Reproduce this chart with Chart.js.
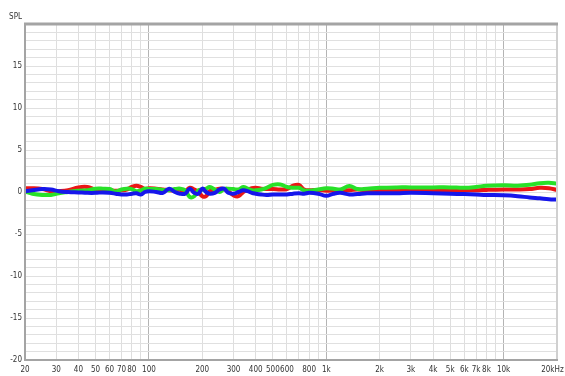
<!DOCTYPE html>
<html>
<head>
<meta charset="utf-8">
<script src="https://cdn.jsdelivr.net/npm/chart.js@4/dist/chart.umd.min.js"></script>
<style>
  html, body { margin: 0; padding: 0; background: #ffffff; }
  #wrap { width: 565px; height: 376px; }
</style>
</head>
<body>
<div id="wrap"><canvas id="spl" width="565" height="376"></canvas></div>
<script>
// Frequency points (Hz) shared by all three responses
const freqs = [20, 22, 25, 28, 31, 35, 40, 45, 50, 55, 60, 65, 70, 75, 80, 85, 90, 95, 100,
  110, 120, 130, 140, 150, 160, 170, 180, 190, 200, 210, 220, 235, 250, 265, 280, 300,
  320, 340, 360, 380, 400, 430, 460, 500, 550, 600, 650, 700, 750, 800, 900, 1000,
  1100, 1200, 1350, 1500, 1700, 2000, 2500, 3000, 4000, 5000, 6000, 7000, 8000,
  10000, 12000, 14000, 16000, 18000, 20000];

// Level (dB) per measurement
const redSPL = [0.45, 0.45, 0.35, 0.1, 0.1, 0.2, 0.55, 0.6, 0.3, 0.2, 0.2, 0.15, 0.2, 0.3, 0.6, 0.75, 0.6, 0.35, 0.45,
  0.4, 0.3, 0.2, 0.2, 0.25, 0.1, 0.5, 0.3, 0.0, -0.5, -0.5, 0.1, 0.25, 0.4, 0.35, 0.1, -0.4,
  -0.5, 0.0, 0.25, 0.45, 0.5, 0.4, 0.35, 0.35, 0.3, 0.35, 0.75, 0.85, 0.3, 0.2, 0.25, 0.15,
  0.2, 0.25, 0.2, 0.3, 0.2, 0.2, 0.2, 0.15, 0.15, 0.15, 0.2, 0.2, 0.25,
  0.3, 0.3, 0.35, 0.5, 0.45, 0.25];

const greenSPL = [0.05, -0.2, -0.35, -0.35, -0.15, 0.0, 0.15, 0.2, 0.4, 0.4, 0.35, 0.05, 0.3, 0.4, 0.35, 0.1, 0.2, 0.4, 0.35,
  0.35, 0.25, 0.2, 0.35, 0.4, 0.2, -0.6, -0.5, 0.2, 0.3, 0.4, 0.6, 0.3, 0.0, 0.35, 0.4, 0.35,
  0.3, 0.6, 0.4, 0.2, 0.2, 0.3, 0.5, 0.85, 0.9, 0.6, 0.5, 0.5, 0.2, 0.15, 0.3, 0.45,
  0.4, 0.3, 0.7, 0.35, 0.4, 0.5, 0.55, 0.55, 0.55, 0.55, 0.5, 0.6, 0.75,
  0.8, 0.75, 0.85, 1.05, 1.1, 1.0];

const blueSPL = [0.1, 0.2, 0.35, 0.3, 0.1, 0.0, -0.05, -0.1, -0.1, -0.05, -0.1, -0.2, -0.3, -0.3, -0.2, -0.15, -0.3, 0.0, 0.1,
  0.0, -0.1, 0.4, 0.0, -0.2, -0.2, 0.4, -0.1, -0.2, 0.4, 0.0, -0.2, -0.1, 0.3, 0.4, -0.1, -0.2,
  0.0, 0.2, 0.1, -0.1, -0.2, -0.3, -0.35, -0.3, -0.3, -0.3, -0.2, -0.15, -0.2, -0.1, -0.2, -0.45,
  -0.2, -0.1, -0.3, -0.25, -0.15, -0.15, -0.15, -0.1, -0.15, -0.2, -0.25, -0.3, -0.35,
  -0.4, -0.5, -0.65, -0.75, -0.85, -0.9];

// Vertical grid positions and their captions
const gridFreqs = [20, 30, 40, 50, 60, 70, 80, 90, 100, 200, 300, 400, 500, 600, 700, 800, 900,
  1000, 2000, 3000, 4000, 5000, 6000, 7000, 8000, 9000, 10000, 20000];
const freqLabels = {20: '20', 30: '30', 40: '40', 50: '50', 60: '60', 70: '70', 80: '80', 100: '100',
  200: '200', 300: '300', 400: '400', 500: '500', 600: '600', 800: '800', 1000: '1k',
  2000: '2k', 3000: '3k', 4000: '4k', 5000: '5k', 6000: '6k', 7000: '7k', 8000: '8k',
  10000: '10k', 20000: '20kHz\u00a0\u00a0\u00a0\u00a0'};
const decadeFreqs = [100, 1000, 10000];

const yMin = -20, yMax = 20;
const yLabelStep = 5;
const yAxisTitle = 'SPL';

const toPoints = (vals) => freqs.map((f, i) => ({ x: f, y: vals[i] }));

const tickFont = { family: "'DejaVu Sans Condensed', 'Liberation Sans Narrow', 'Liberation Sans', sans-serif", size: 8 };
const tickColor = '#333333';

// Gray frame around the plot and the SPL caption above the level axis
const framePlugin = {
  id: 'frame',
  afterDraw(chart) {
    const { ctx, chartArea: a } = chart;
    ctx.save();
    ctx.strokeStyle = '#d0d0d0';
    ctx.lineWidth = 2;
    ctx.beginPath();
    ctx.moveTo(a.right, a.top);
    ctx.lineTo(a.right, a.bottom);
    ctx.stroke();
    ctx.strokeStyle = '#a4a4a4';
    ctx.lineWidth = 3;
    ctx.beginPath();
    ctx.moveTo(a.left - 1, a.top);
    ctx.lineTo(a.right + 1, a.top);
    ctx.stroke();
    ctx.lineWidth = 2;
    ctx.beginPath();
    ctx.moveTo(a.left, a.top);
    ctx.lineTo(a.left, a.bottom);
    ctx.moveTo(a.left - 1, a.bottom);
    ctx.lineTo(a.right + 1, a.bottom);
    ctx.stroke();
    ctx.fillStyle = tickColor;
    ctx.font = `${tickFont.size}px ${tickFont.family}`;
    ctx.textAlign = 'right';
    ctx.textBaseline = 'middle';
    ctx.fillText(yAxisTitle, a.left - 3, a.top - 7);
    ctx.restore();
  }
};

new Chart(document.getElementById('spl'), {
  type: 'line',
  data: {
    datasets: [
      { label: 'blue', data: toPoints(blueSPL), borderColor: 'rgb(22,22,235)' },
      { label: 'green', data: toPoints(greenSPL), borderColor: 'rgb(40,225,40)' },
      { label: 'red', data: toPoints(redSPL), borderColor: 'rgb(235,22,22)' }
    ]
  },
  options: {
    responsive: false,
    animation: false,
    devicePixelRatio: 1,
    layout: { padding: { left: 0, top: 24, right: 8, bottom: 0 } },
    elements: {
      line: { borderWidth: 4, tension: 0.4, fill: false },
      point: { radius: 0 }
    },
    plugins: { legend: { display: false }, tooltip: { enabled: false } },
    scales: {
      x: {
        type: 'logarithmic',
        min: 20,
        max: 20000,
        afterBuildTicks(scale) {
          scale.ticks = gridFreqs.map(v => ({ value: v }));
        },
        afterFit(scale) {
          scale.height = 16;
          scale.paddingLeft = 0;
          scale.paddingRight = 0;
        },
        border: { display: false },
        grid: {
          drawTicks: false,
          lineWidth: 1,
          color: (ctx) => (ctx.tick && decadeFreqs.includes(ctx.tick.value)) ? '#b4b4b4' : '#dedede'
        },
        ticks: {
          autoSkip: false,
          maxRotation: 0,
          padding: 5,
          font: tickFont,
          color: tickColor,
          callback: (v) => freqLabels[v] || ''
        }
      },
      y: {
        min: yMin,
        max: yMax,
        afterFit(scale) { scale.width = 25; },
        border: { display: false },
        grid: { drawTicks: false, color: '#e0e0e0', lineWidth: 1 },
        ticks: {
          stepSize: 1,
          autoSkip: false,
          padding: 3,
          font: tickFont,
          color: tickColor,
          callback: (v) => (v % yLabelStep === 0 && v !== yMax) ? String(v) : ''
        }
      }
    }
  },
  plugins: [framePlugin]
});
</script>
</body>
</html>
